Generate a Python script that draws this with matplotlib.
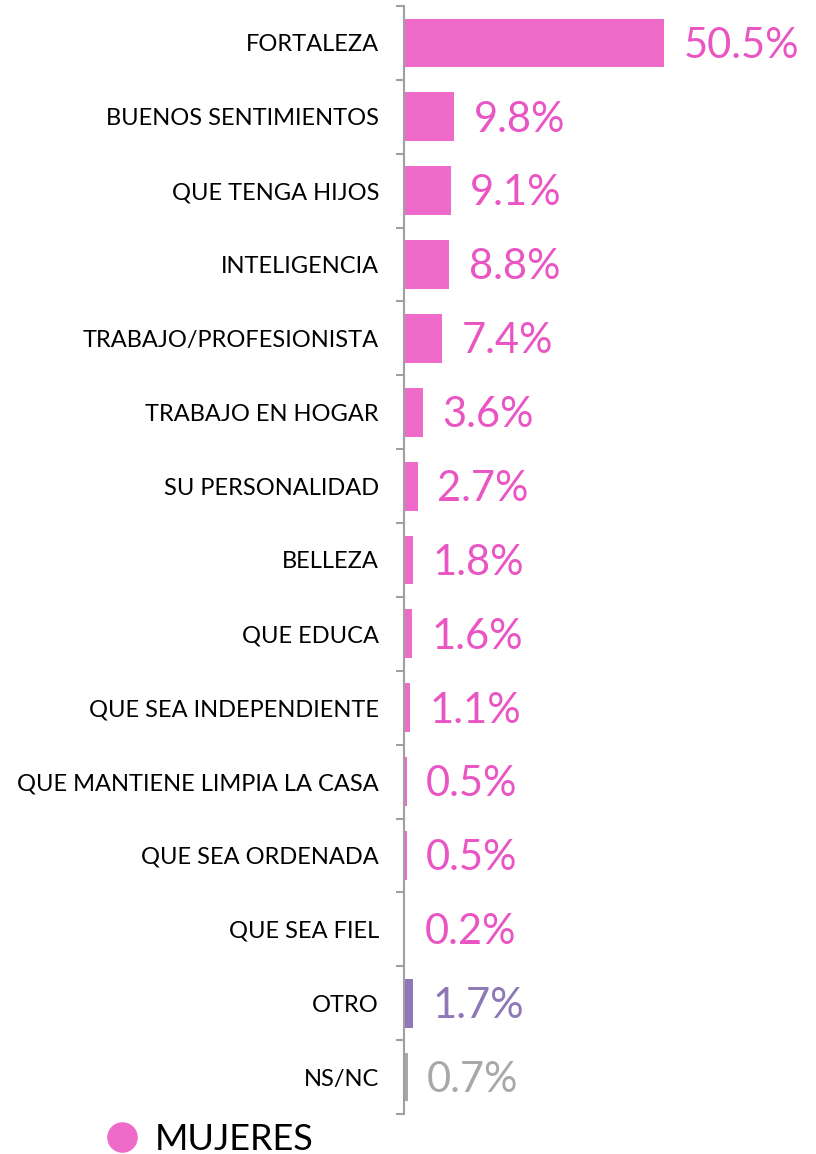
import matplotlib
matplotlib.use("Agg")
import matplotlib.pyplot as plt
import numpy as np

categories = ["FORTALEZA", "BUENOS SENTIMIENTOS", "QUE TENGA HIJOS", "INTELIGENCIA",
              "TRABAJO/PROFESIONISTA", "TRABAJO EN HOGAR", "SU PERSONALIDAD", "BELLEZA",
              "QUE EDUCA", "QUE SEA INDEPENDIENTE", "QUE MANTIENE LIMPIA LA CASA",
              "QUE SEA ORDENADA", "QUE SEA FIEL", "OTRO", "NS/NC"]
values = [50.5, 9.8, 9.1, 8.8, 7.4, 3.6, 2.7, 1.8, 1.6, 1.1, 0.5, 0.5, 0.2, 1.7, 0.7]
labels = ["50.5%", "9.8%", "9.1%", "8.8%", "7.4%", "3.6%", "2.7%", "1.8%", "1.6%",
          "1.1%", "0.5%", "0.5%", "0.2%", "1.7%", "0.7%"]

pink = "#EF6BC9"
pink_txt = "#E955C3"
purple = "#8F78B7"
gray = "#A8A8A8"
bar_colors = [pink] * 13 + [purple, gray]
txt_colors = [pink_txt] * 13 + [purple, gray]

plt.rcParams['font.family'] = ['Lato', 'DejaVu Sans']

fig = plt.figure(figsize=(8.16, 11.54), dpi=100)
ax = fig.add_axes([404 / 816, 1 - 1114 / 1154, (800 - 404) / 816, (1114 - 6) / 1154])

y = np.arange(len(categories))
ax.barh(y, values, height=0.66, color=bar_colors)
ax.set_xlim(0, (800 - 404) / 5.15)
ax.set_ylim(len(categories) - 0.5, -0.5)

for yi, v, lab, c in zip(y, values, labels, txt_colors):
    ax.annotate(lab, (v, yi), xytext=(14, -2), textcoords="offset points",
                va="center", ha="left", fontsize=30, color=c)

ax.set_yticks(y)
ax.set_yticklabels(categories, fontsize=17)
ax.tick_params(axis="y", which="major", length=0, pad=18)
ax.set_yticks(np.arange(-0.5, len(categories), 1), minor=True)
ax.tick_params(axis="y", which="minor", length=6, width=1.5, color="#A0A0A0")
ax.set_xticks([])
for s in ["top", "right", "bottom"]:
    ax.spines[s].set_visible(False)
ax.spines["left"].set_color("#A0A0A0")
ax.spines["left"].set_linewidth(1.5)

# legend
fig.lines.append(plt.Line2D([122 / 816], [1 - 1137 / 1154], marker="o", markersize=21,
                            color=pink, linestyle="none", transform=fig.transFigure))
fig.text(155 / 816, 1 - 1139 / 1154, "MUJERES", color="black", fontsize=26, ha="left", va="center")

fig.savefig("out.png", dpi=100)
